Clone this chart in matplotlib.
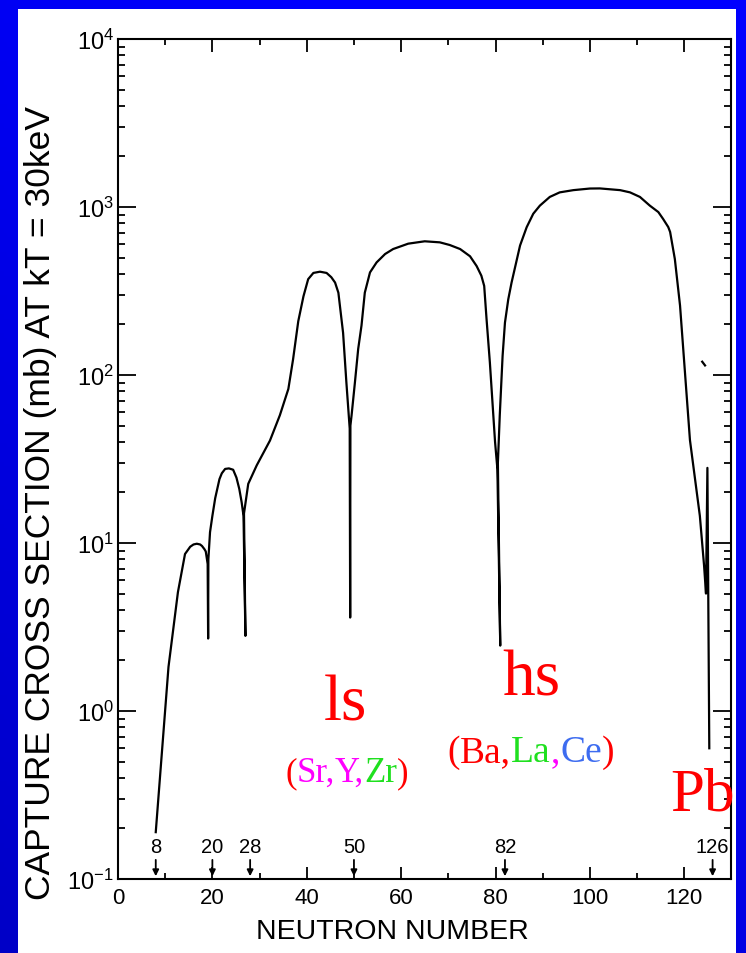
import matplotlib
matplotlib.use('Agg')
import matplotlib.pyplot as plt
import numpy as np
from matplotlib.patches import Rectangle
from matplotlib.ticker import MultipleLocator, LogLocator, NullFormatter

# capture cross section (mb) at kT = 30 keV vs neutron number
neutron_number = [8.0, 10.7, 12.7, 14.2, 15.3, 16.0, 16.7, 17.4, 17.8, 18.3, 18.6, 19.0, 19.1, 19.15,
                  19.5, 20.0, 20.6, 21.5, 22.0, 22.7, 23.5, 24.4, 25.1, 25.7, 26.2, 26.6, 27.0,
                  26.7, 27.6, 29.4, 32.2, 34.3, 36.1, 37.1, 38.2, 39.3, 40.3, 41.4, 42.8, 44.2,
                  45.2, 46.0, 46.7, 47.7, 48.4, 49.1, 49.2, 49.25, 49.5, 50.2, 50.9, 51.6, 52.3,
                  53.4, 54.8, 56.6, 58.3, 61.5, 65.0, 68.2, 70.3, 72.5, 74.6, 76.0, 77.0, 77.6,
                  78.1, 78.8, 79.9, 80.4, 81.0, 80.5, 80.9, 81.5, 82.0, 82.7, 83.4, 85.2, 86.6,
                  88.0, 89.4, 91.5, 93.6, 96.5, 100.0, 102.1, 106.4, 108.5, 110.6, 112.7, 114.5,
                  115.5, 116.6, 117.0, 118.0, 119.1, 121.2, 123.3, 124.2, 124.6, 124.9, 125.3]
cross_section = [0.19, 1.83, 5.1, 8.6, 9.5, 9.8, 9.9, 9.8, 9.6, 9.2, 8.9, 7.5, 2.7, 8.0,
                 11.6, 14.5, 18.5, 24, 26, 27.6, 27.8, 27.3, 24.5, 21, 17.5, 14.5, 2.8,
                 15.0, 22.5, 29, 40.7, 57.6, 82.6, 124, 209, 294, 372, 405, 412, 405,
                 382, 355, 309, 178, 90, 48, 3.6, 50, 57.6, 90, 143, 197, 309,
                 408, 468, 525, 562, 605, 625, 616, 594, 562, 509, 445, 390, 339,
                 215, 119, 40, 27.5, 2.45, 30, 57.6, 130, 205, 282, 355, 590, 758,
                 912, 1019, 1148, 1222, 1260, 1288, 1290, 1260, 1222, 1148, 1019, 933,
                 850, 760, 710, 490, 259, 41, 14.5, 7.3, 5.0, 28, 0.6]

# short stray mark near N=124
mark_n = [123.8, 124.4]
mark_sigma = [120, 114]

magic_numbers = [8, 20, 28, 50, 82, 126]

W, H = 746, 954
plt.rcParams['font.family'] = ['Liberation Sans', 'DejaVu Sans']
fig = plt.figure(figsize=(W / 100, H / 100), dpi=100)

# slide background: blue with white panel
bg = fig.add_axes([0, 0, 1, 1])
gx, gy = np.meshgrid(np.linspace(0, 1, 200), np.linspace(0, 1, 200))
blue = 0.78 + 0.22 * np.clip(0.5 * gx + 0.8 * (1 - gy), 0, 1)
img = np.zeros((200, 200, 3))
img[..., 2] = blue
bg.imshow(img, extent=[0, W, H, 0], aspect='auto')
bg.add_patch(Rectangle((18, 10), 736 - 18, H - 10, facecolor='white', edgecolor='none'))
bg.set_xlim(0, W)
bg.set_ylim(H, 0)
bg.axis('off')

ax = fig.add_axes([118 / W, 74 / H, 613 / W, 840 / H])
ax.set_facecolor('none')
ax.plot(neutron_number, cross_section, color='k', lw=1.6, solid_joinstyle='round')
ax.plot(mark_n, mark_sigma, color='k', lw=1.6)

ax.set_yscale('log')
ax.set_ylim(0.1, 1e4)
ax.set_xlim(0, 129.9)
ax.xaxis.set_major_locator(MultipleLocator(20))
ax.xaxis.set_minor_locator(MultipleLocator(10))
ax.yaxis.set_minor_locator(LogLocator(base=10, subs=np.arange(2, 10), numticks=50))
ax.yaxis.set_minor_formatter(NullFormatter())
ax.tick_params(which='both', direction='in', top=True, right=True, width=1.3, colors='k')
ax.tick_params(axis='y', which='major', length=13, labelsize=17, pad=3)
ax.tick_params(axis='y', which='minor', length=5)
ax.tick_params(axis='x', which='major', length=9, labelsize=16, pad=6)
ax.tick_params(axis='x', which='minor', length=4)
for sp in ax.spines.values():
    sp.set_linewidth(1.5)

ax.set_xlabel('NEUTRON NUMBER', fontsize=20.5, va='center')
ax.xaxis.set_label_coords(0.447, -0.062)
ax.set_ylabel('CAPTURE CROSS SECTION (mb) AT kT = 30keV', fontsize=25.5, va='center')
ax.yaxis.set_label_coords(-0.127, 0.449)

# magic-number arrows along the bottom axis
for n in magic_numbers:
    ax.annotate('', xy=(n, 0.1), xytext=(n, 0.135),
                arrowprops=dict(arrowstyle='-|>', color='k', lw=1.3, mutation_scale=9))
    ax.text(n, 0.138, str(n), ha='center', va='bottom', fontsize=14.5)

# coloured labels (multi-colour strings drawn piece by piece)
serif = ['Liberation Serif', 'DejaVu Serif']
fig.canvas.draw()
renderer = fig.canvas.get_renderer()


def colour_text(n, sigma, parts, size):
    x0, y0 = ax.transData.transform((n, sigma))
    texts = [fig.text(0, 0, s, color=c, fontsize=size, family=serif, va='baseline', ha='left')
             for s, c in parts]
    widths = [t.get_window_extent(renderer).width for t in texts]
    x = x0 - sum(widths) / 2
    for t, w in zip(texts, widths):
        t.set_position((x / W, y0 / H))
        x += w


colour_text(48.3, 0.895, [('ls', 'red')], 47)
colour_text(87.5, 1.26, [('hs', 'red')], 47)
colour_text(48.5, 0.383, [('(', 'red'), ('Sr,', 'magenta'), ('Y,', 'magenta'),
                          ('Zr', '#1fe01f'), (')', 'red')], 25)
colour_text(87.5, 0.503, [('(', 'red'), ('Ba,', 'red'), ('La', '#1fe01f'), (',', 'magenta'),
                          ('Ce', '#3d6cf0'), (')', 'red')], 27)
colour_text(123.8, 0.261, [('Pb', 'red')], 44)

fig.savefig('out.png', dpi=100)
